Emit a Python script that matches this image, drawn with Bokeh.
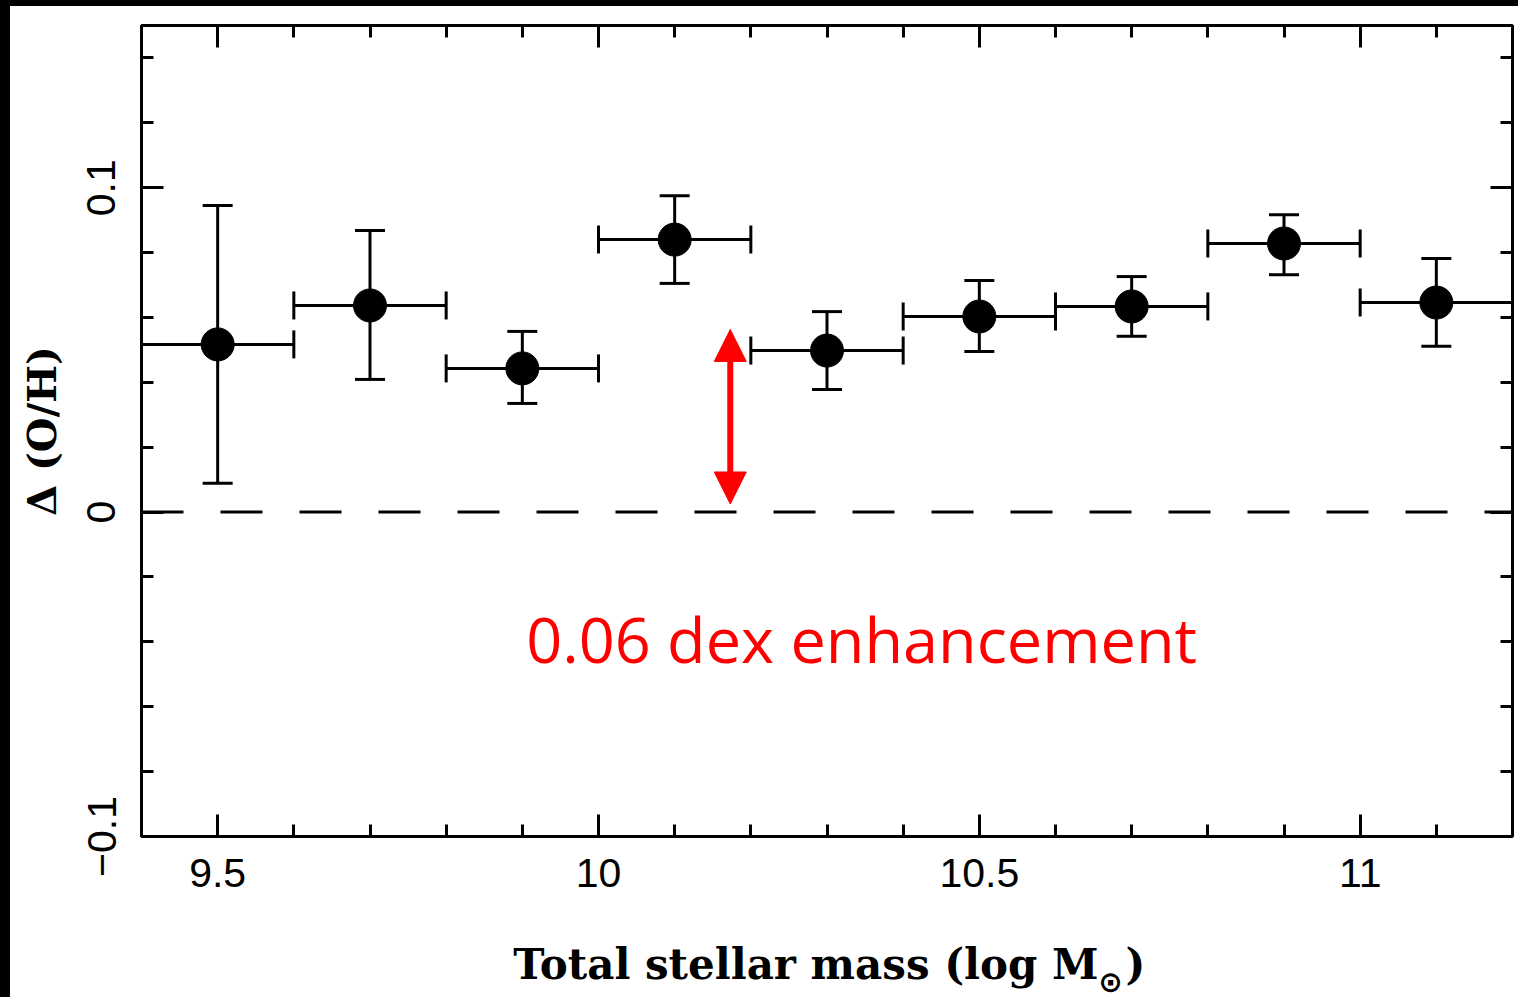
import math
from bokeh.plotting import figure
from bokeh.models import (ColumnDataSource, Whisker, TeeHead, Span, Arrow, NormalHead, Label,
                          LinearAxis, SingleIntervalTicker, CustomJSTickFormatter, Range1d)
from bokeh.layouts import column
from bokeh.embed import file_html
from bokeh.resources import INLINE

# ---- data ----
mass = [9.5, 9.7, 9.9, 10.1, 10.3, 10.5, 10.7, 10.9, 11.1]
bin_lo = [9.4, 9.6, 9.8, 10.0, 10.2, 10.4, 10.6, 10.8, 11.0]
bin_hi = [9.6, 9.8, 10.0, 10.2, 10.4, 10.6, 10.8, 11.0, 11.2]
delta_oh = [0.0517, 0.0637, 0.0443, 0.0840, 0.0498, 0.0603, 0.0634, 0.0828, 0.0646]
err_low = [0.0089, 0.0409, 0.0335, 0.0705, 0.0378, 0.0495, 0.0542, 0.0732, 0.0511]
err_high = [0.0945, 0.0868, 0.0557, 0.0975, 0.0618, 0.0714, 0.0726, 0.0917, 0.0782]

arrow_x = 10.173
arrow_y = [0.0025, 0.0563]
note_text = "0.06 dex enhancement"
x_title = "Total stellar mass (log M"
x_title_sub = "\u2299"
x_title_end = ")"
y_title = "\u0394 (O/H)"

src = ColumnDataSource(dict(x=mass, y=delta_oh, ylo=err_low, yhi=err_high, xlo=bin_lo, xhi=bin_hi))

p = figure(width=1508, height=909, x_range=Range1d(9.4, 11.2), y_range=Range1d(-0.1, 0.15),
           output_backend="svg", toolbar_location=None,
           min_border_left=131, min_border_right=6, min_border_top=19, min_border_bottom=79,
           background_fill_color="white", border_fill_color="white", margin=0)
p.frame_align = False
p.grid.visible = False
p.outline_line_color = "black"
p.outline_line_width = 3

xt = SingleIntervalTicker(interval=0.5, num_minor_ticks=5)
yt = SingleIntervalTicker(interval=0.1, num_minor_ticks=5)
xfmt = CustomJSTickFormatter(code="return String(Math.round(tick*10)/10);")
yfmt = CustomJSTickFormatter(code="const v = Math.round(tick*10)/10; if (v === 0) return '0'; return (v < 0 ? '\u2212' : '') + Math.abs(v).toString();")

def style_axis(ax, ticker):
    ax.ticker = ticker
    ax.axis_line_color = None
    ax.major_tick_in = 22
    ax.major_tick_out = 0
    ax.minor_tick_in = 12
    ax.minor_tick_out = 0
    ax.major_tick_line_width = 3
    ax.minor_tick_line_width = 3
    ax.major_tick_line_color = "black"
    ax.minor_tick_line_color = "black"

xa = p.xaxis[0]
style_axis(xa, xt)
xa.formatter = xfmt
xa.major_label_text_font = "Liberation Sans"
xa.major_label_text_font_size = "41px"
xa.major_label_text_color = "black"
xa.major_label_standoff = 22

ya = p.yaxis[0]
style_axis(ya, yt)
ya.formatter = yfmt
ya.major_label_orientation = "vertical"
ya.major_label_text_font = "Liberation Sans"
ya.major_label_text_font_size = "41px"
ya.major_label_text_color = "black"
ya.major_label_standoff = 26
ya.axis_label = y_title
ya.axis_label_text_font = "DejaVu Serif"
ya.axis_label_text_font_style = "bold"
ya.axis_label_text_font_size = "40px"
ya.axis_label_text_color = "black"
ya.axis_label_standoff = 20

for loc, tk in (("above", SingleIntervalTicker(interval=0.5, num_minor_ticks=5)),
                ("right", SingleIntervalTicker(interval=0.1, num_minor_ticks=5))):
    ax = LinearAxis()
    style_axis(ax, tk)
    ax.major_label_text_font_size = "0px"
    ax.major_label_text_color = None
    ax.major_label_standoff = 0
    p.add_layout(ax, loc)

p.add_layout(Span(location=0, dimension="width", line_color="black", line_width=3, line_dash="42 37"))

p.add_layout(Whisker(source=src, base="x", lower="ylo", upper="yhi", dimension="height",
                     line_color="black", line_width=3,
                     upper_head=TeeHead(size=30, line_width=3, line_color="black"),
                     lower_head=TeeHead(size=30, line_width=3, line_color="black")))
p.add_layout(Whisker(source=src, base="y", lower="xlo", upper="xhi", dimension="width",
                     line_color="black", line_width=3,
                     upper_head=TeeHead(size=28, line_width=3, line_color="black"),
                     lower_head=TeeHead(size=28, line_width=3, line_color="black")))
p.scatter(x="x", y="y", source=src, size=33, color="black")

p.add_layout(Arrow(start=NormalHead(size=32, fill_color="red", line_color="red"),
                   end=NormalHead(size=32, fill_color="red", line_color="red"),
                   x_start=arrow_x, y_start=arrow_y[0], x_end=arrow_x, y_end=arrow_y[1],
                   line_color="red", line_width=6))

p.add_layout(Label(x=9.905, y=-0.0391, text=note_text, text_color="red",
                   text_font="Open Sans", text_font_size="63px", text_baseline="alphabetic"))

# x-axis title strip (separate figure so the subscript can be placed freely)
p2 = figure(width=1508, height=82, x_range=Range1d(0, 1508), y_range=Range1d(0, 82),
            output_backend="svg", toolbar_location=None, min_border=0,
            x_axis_location=None, y_axis_location=None,
            background_fill_color="white", border_fill_color="white", margin=0)
p2.frame_align = False
p2.grid.visible = False
p2.outline_line_color = None

p2.add_layout(Label(x=1088, y=33, x_units="screen", y_units="screen", text=x_title,
                    text_align="right", text_baseline="alphabetic", text_color="black",
                    text_font="DejaVu Serif", text_font_style="bold", text_font_size="42px"))
p2.add_layout(Label(x=1100, y=16, x_units="screen", y_units="screen", text=x_title_sub,
                    text_align="center", text_baseline="middle", text_color="black",
                    text_font="DejaVu Sans", text_font_style="bold", text_font_size="29px"))
p2.add_layout(Label(x=1115, y=33, x_units="screen", y_units="screen", text=x_title_end,
                    text_align="left", text_baseline="alphabetic", text_color="black",
                    text_font="DejaVu Serif", text_font_style="bold", text_font_size="42px"))

inner = column(p, p2, spacing=0, margin=(6, 0, 0, 10), styles={"background-color": "white"})
layout = column(inner, styles={"background-color": "black"}, margin=0)

open("out.html", "w").write(file_html(layout, INLINE))
